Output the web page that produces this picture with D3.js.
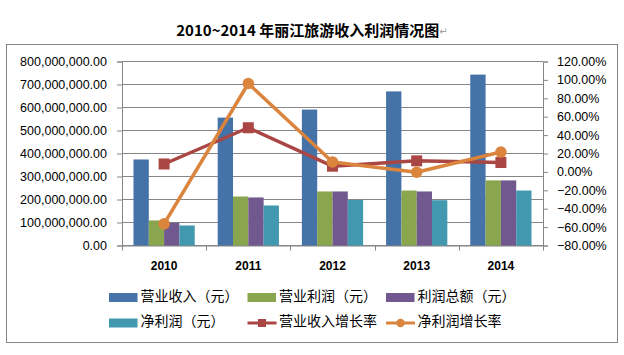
<!DOCTYPE html>
<html>
<head>
<meta charset="utf-8">
<script src="https://cdn.jsdelivr.net/npm/d3@7"></script>
<style>
  html, body { margin: 0; padding: 0; background: #fff; }
  svg { display: block; }
</style>
</head>
<body>
<svg id="chart" width="624" height="355"></svg>
<script>
// ---- data ----
const years = ["2010", "2011", "2012", "2013", "2014"];
const revenue     = [374e6, 556e6, 591e6, 670e6, 743e6];
const opProfit    = [109e6, 213e6, 235e6, 239e6, 283e6];
const totalProfit = [99e6, 209e6, 235e6, 235e6, 283e6];
const netProfit   = [87e6, 174e6, 198e6, 197e6, 239e6];
const revGrowth   = [0.086, 0.48, 0.062, 0.12, 0.102];
const netGrowth   = [-0.565, 0.961, 0.108, -0.004, 0.216];
const barNames  = ["营业收入（元）", "营业利润（元）", "利润总额（元）", "净利润（元）"];
const lineNames = ["营业收入增长率", "净利润增长率"];
const leftTicks  = [0, 100e6, 200e6, 300e6, 400e6, 500e6, 600e6, 700e6, 800e6];
const rightTicks = [-0.8, -0.6, -0.4, -0.2, 0, 0.2, 0.4, 0.6, 0.8, 1.0, 1.2];
const titleText = "2010~2014 年丽江旅游收入利润情况图";

const barSeries = [revenue, opProfit, totalProfit, netProfit];
const barColors = ["#4572A7", "#89A54E", "#71588F", "#4198AF"];
const lineSeries = [revGrowth, netGrowth];
const lineColors = ["#AA4643", "#DB843D"];

const svg = d3.select("#chart");
const grey = "#868686";
const plotL = 122, plotR = 543, plotT = 61.5, plotB = 245.5;

// outer box
svg.append("rect").attr("x", 6.5).attr("y", 44.5).attr("width", 611).attr("height", 298)
  .attr("fill", "#fff").attr("stroke", grey).attr("stroke-width", 1);

// title
const title = svg.append("text").attr("x", 312).attr("y", 29)
  .attr("text-anchor", "middle").attr("dominant-baseline", "central")
  .attr("font-family", "'Noto Sans CJK SC', sans-serif").attr("font-weight", "bold")
  .attr("font-size", 15).attr("fill", "#000");
title.append("tspan").text(titleText);
title.append("tspan").attr("font-size", 10).attr("font-weight", "normal").attr("fill", "#999")
  .attr("font-family", "'DejaVu Sans', sans-serif").attr("dy", 2).text("↵");

// scales
const x = d3.scaleBand().domain(years).range([plotL, plotR]).padding(0);
const bw = x.bandwidth();
const gap = bw * 0.75 / 5.5;
const x1 = d3.scaleBand().domain(d3.range(barSeries.length)).range([gap, bw - gap]).padding(0);
const yL = d3.scaleLinear().domain([0, 800e6]).range([plotB, plotT]);
const yR = d3.scaleLinear().domain([-0.8, 1.2]).range([plotB, plotT]);

// gridlines
svg.append("g").selectAll("line").data(leftTicks).join("line")
  .attr("x1", plotL).attr("x2", plotR)
  .attr("y1", d => yL(d)).attr("y2", d => yL(d))
  .attr("stroke", grey).attr("stroke-width", 1);

// left axis
const leftAxis = svg.append("g").attr("transform", `translate(${plotL},0)`)
  .call(d3.axisLeft(yL).tickValues(leftTicks).tickFormat(d3.format(",.2f")).tickSize(5).tickPadding(10));
leftAxis.select(".domain").attr("stroke", grey);
leftAxis.selectAll(".tick line").attr("stroke", grey);
leftAxis.selectAll("text").attr("font-family", "'Liberation Sans', Arial, sans-serif")
  .attr("font-size", 12.5).attr("fill", "#000");

// right axis
const rightAxis = svg.append("g").attr("transform", `translate(${plotR},0)`)
  .call(d3.axisRight(yR).tickValues(rightTicks).tickFormat(d3.format(".2%")).tickSize(5).tickPadding(9));
rightAxis.select(".domain").attr("stroke", grey);
rightAxis.selectAll(".tick line").attr("stroke", grey);
rightAxis.selectAll("text").attr("font-family", "'Liberation Sans', Arial, sans-serif")
  .attr("font-size", 12.5).attr("fill", "#000");

// bottom axis
const bottom = svg.append("g").attr("transform", `translate(0,${plotB})`)
  .call(d3.axisBottom(x).tickSize(0).tickPadding(16));
bottom.select(".domain").attr("stroke", grey);
bottom.selectAll("text").attr("font-family", "'Liberation Sans', Arial, sans-serif")
  .attr("font-size", 12).attr("font-weight", "bold").attr("fill", "#000");
// category boundary ticks
const bounds = years.map(d => x(d)).concat([x(years[years.length - 1]) + bw]);
svg.append("g").selectAll("line").data(bounds).join("line")
  .attr("x1", d => Math.round(d) + 0.5).attr("x2", d => Math.round(d) + 0.5)
  .attr("y1", plotB).attr("y2", plotB + 5)
  .attr("stroke", grey);

// bars
barSeries.forEach((series, si) => {
  svg.append("g").selectAll("rect").data(series).join("rect")
    .attr("x", (d, i) => x(years[i]) + x1(si))
    .attr("width", x1.bandwidth())
    .attr("y", d => yL(d))
    .attr("height", d => yL(0) - yL(d))
    .attr("fill", barColors[si]);
});

// lines
const line = d3.line().x((d, i) => x(years[i]) + bw / 2).y(d => yR(d));
lineSeries.forEach((series, si) => {
  const g = svg.append("g");
  g.append("path").datum(series).attr("d", line)
    .attr("fill", "none").attr("stroke", lineColors[si]).attr("stroke-width", 3.5)
    .attr("stroke-linejoin", "round");
  if (si === 0) {
    g.selectAll("rect").data(series).join("rect")
      .attr("x", (d, i) => x(years[i]) + bw / 2 - 5.5)
      .attr("y", d => yR(d) - 5.5)
      .attr("width", 11).attr("height", 11)
      .attr("fill", lineColors[si]);
  } else {
    g.selectAll("circle").data(series).join("circle")
      .attr("cx", (d, i) => x(years[i]) + bw / 2)
      .attr("cy", d => yR(d))
      .attr("r", 5.8)
      .attr("fill", lineColors[si]);
  }
});

// legend
const legendItems = barNames.map((n, i) => ({ name: n, type: "bar", color: barColors[i] }))
  .concat(lineNames.map((n, i) => ({ name: n, type: "line", idx: i, color: lineColors[i] })));
const leg = svg.append("g").selectAll("g").data(legendItems).join("g")
  .attr("transform", (d, i) => `translate(${109 + (i % 3) * 138.5},${297.5 + Math.floor(i / 3) * 25.5})`);
leg.each(function(d) {
  const g = d3.select(this);
  if (d.type === "bar") {
    g.append("rect").attr("x", 0).attr("y", -4.5).attr("width", 28.5).attr("height", 9).attr("fill", d.color);
  } else {
    g.append("line").attr("x1", 0).attr("x2", 29).attr("y1", 0).attr("y2", 0)
      .attr("stroke", d.color).attr("stroke-width", 3);
    if (d.idx === 0) {
      g.append("rect").attr("x", 14.5 - 4).attr("y", -4).attr("width", 8).attr("height", 8).attr("fill", d.color);
    } else {
      g.append("circle").attr("cx", 14.5).attr("cy", 0).attr("r", 4.2).attr("fill", d.color);
    }
  }
  g.append("text").attr("x", 31.5).attr("y", -3)
    .attr("dominant-baseline", "central")
    .attr("font-family", "'Noto Sans CJK SC', sans-serif").attr("font-size", 14).attr("fill", "#000")
    .text(d.name);
});
</script>
</body>
</html>
